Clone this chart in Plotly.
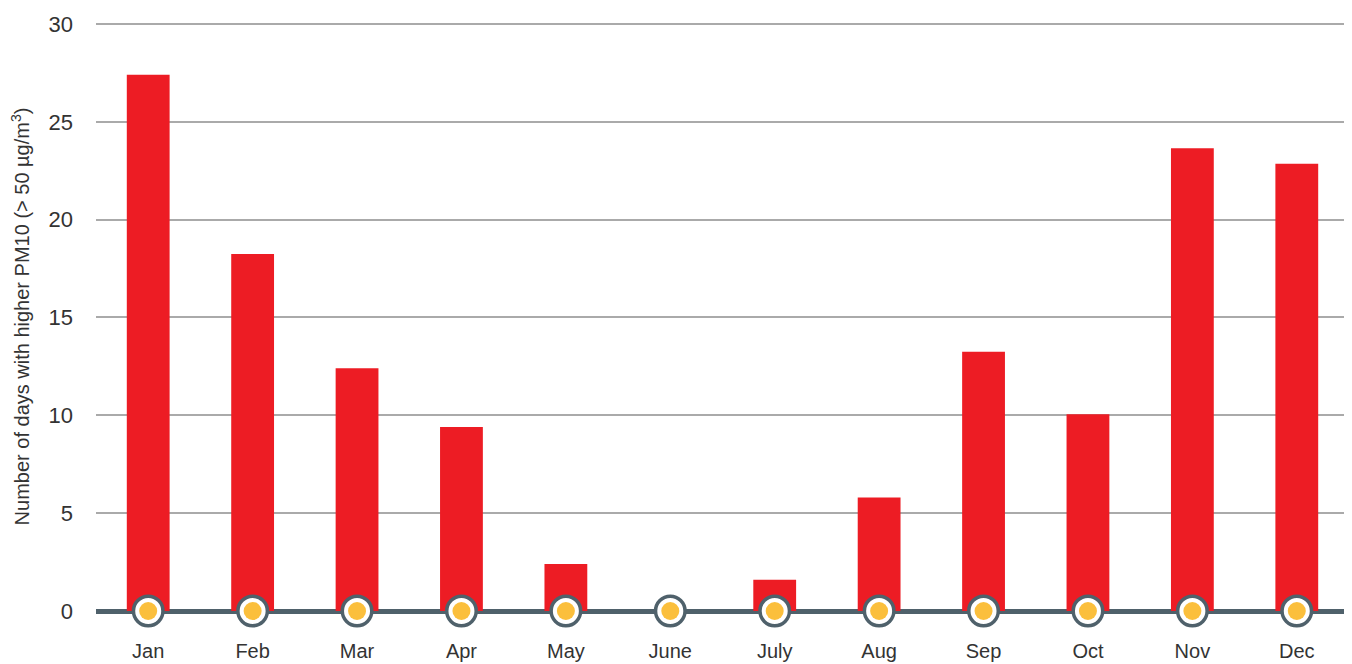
import plotly.graph_objects as go

months = ["Jan", "Feb", "Mar", "Apr", "May", "June", "July", "Aug", "Sep", "Oct", "Nov", "Dec"]
days = [27.4, 18.25, 12.4, 9.4, 2.4, 0, 1.6, 5.8, 13.25, 10.05, 23.65, 22.85]
zeros = [0] * len(months)

fig = go.Figure()
fig.add_trace(go.Bar(x=months, y=days, marker=dict(color="#ed1c24", line=dict(width=0)),
                     width=0.41, showlegend=False, hoverinfo="y"))
fig.add_trace(go.Scatter(x=months, y=zeros, mode="markers", cliponaxis=False, showlegend=False,
                         marker=dict(size=29.5, color="white", line=dict(color="#4f616b", width=3.5)),
                         hoverinfo="skip"))
fig.add_trace(go.Scatter(x=months, y=zeros, mode="markers", cliponaxis=False, showlegend=False,
                         marker=dict(size=18, color="#fbbf3c", line=dict(width=0)),
                         hoverinfo="skip"))

# page body has an 8px default margin, so the figure is sized to fit the window
fig.update_layout(
    width=1344, height=656,
    margin=dict(l=88, r=3, t=14, b=53),
    plot_bgcolor="white", paper_bgcolor="white",
    font=dict(family="Liberation Sans, Arial, sans-serif", color="#333333"),
    xaxis=dict(range=[-0.5, 11.5], showgrid=False, showline=False, zeroline=False,
               automargin=False,
               tickfont=dict(size=20, color="#333333"), ticklabelstandoff=26,
               fixedrange=True),
    yaxis=dict(range=[0, 30.1], tickvals=[0, 5, 10, 15, 20, 25, 30],
               showgrid=True, gridcolor="#aaaaaa", gridwidth=2, automargin=False,
               zeroline=True, zerolinecolor="#4f616b", zerolinewidth=5,
               showline=False, tickfont=dict(size=22, color="#333333"),
               ticklabelstandoff=22,
               title=dict(text="Number of days with higher PM10 (> 50 µg/m<sup>3</sup>)",
                          font=dict(size=20, color="#333333"), standoff=17),
               fixedrange=True),
)

fig.write_html("out.html")
